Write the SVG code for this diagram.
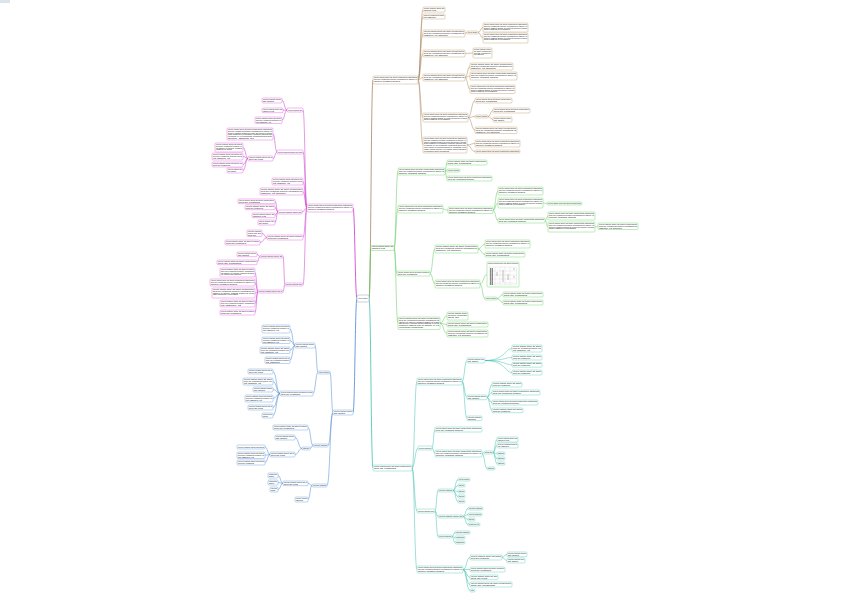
<svg xmlns="http://www.w3.org/2000/svg" width="848" height="599" viewBox="0 0 848 599">
<style>
rect.n{fill:#fff;stroke-width:0.5;rx:1px;ry:1px}
.b{stroke:#c9a57c}.g{stroke:#7ad67a}.t{stroke:#6fd0c0}.m{stroke:#e070e0}.u{stroke:#7aa8e0}
text{font-family:"Liberation Sans",Arial,sans-serif;font-size:1.7px;fill:#222}
path.c{fill:none;stroke-width:0.5}
path.w{stroke-width:0.8}
.cb{stroke:#a8845c}.cg{stroke:#5cc65c}.ct{stroke:#3fbfae}.cm{stroke:#cc33cc}.cu{stroke:#4a84d0}
</style>
<rect x="0" y="0" width="10" height="3" fill="#dde3ea"/>
<g id="connectors">
<path class="c w cb" d="M369,298.5 C371,298.5 371,80 373,80"/>
<path class="c w cg" d="M369,298.5 C370,298.5 370,248 371,248"/>
<path class="c w ct" d="M369,298.5 C371,298.5 371,468 373,468"/>
<path class="c w cm" d="M357,298.5 C355,298.5 355,208 353,208"/>
<path class="c w cu" d="M357,298.5 C355,298.5 355,412.5 353,412.5"/>
<path class="c cb" d="M418,80 C420.5,80 420.5,9.5 423,9.5"/>
<path class="c cb" d="M418,80 C420.5,80 420.5,16.5 423,16.5"/>
<path class="c cb" d="M418,80 C420.5,80 420.5,33.5 423,33.5"/>
<path class="c cb" d="M418,80 C420.5,80 420.5,53.5 423,53.5"/>
<path class="c cb" d="M418,80 C420.5,80 420.5,77.5 423,77.5"/>
<path class="c cb" d="M418,80 C420.5,80 420.5,117.5 423,117.5"/>
<path class="c cb" d="M418,80 C420.5,80 420.5,145 423,145"/>
<path class="c cb" d="M465,33.5 C466,33.5 466,32.5 467,32.5"/>
<path class="c cb" d="M478,32.5 C480.5,32.5 480.5,27.5 483,27.5"/>
<path class="c cb" d="M478,32.5 C480.5,32.5 480.5,38 483,38"/>
<path class="c cb" d="M465,53.5 C469,53.5 469,53 473,53"/>
<path class="c cb" d="M465,77.5 C467.5,77.5 467.5,66.5 470,66.5"/>
<path class="c cb" d="M465,77.5 C467.5,77.5 467.5,76 470,76"/>
<path class="c cb" d="M465,77.5 C467.5,77.5 467.5,89.25 470,89.25"/>
<path class="c cb" d="M468,117.5 C471.5,117.5 471.5,100.5 475,100.5"/>
<path class="c cb" d="M468,117.5 C471.5,117.5 471.5,116.5 475,116.5"/>
<path class="c cb" d="M468,117.5 C471.5,117.5 471.5,130.25 475,130.25"/>
<path class="c cb" d="M488,116.5 C490.5,116.5 490.5,110.5 493,110.5"/>
<path class="c cb" d="M488,116.5 C490.5,116.5 490.5,119.5 493,119.5"/>
<path class="c cb" d="M467,145 C471,145 471,143.5 475,143.5"/>
<path class="c cb" d="M467,145 C471,145 471,151.5 475,151.5"/>
<path class="c cg" d="M394,248 C396,248 396,171.5 398,171.5"/>
<path class="c cg" d="M394,248 C396,248 396,209 398,209"/>
<path class="c cg" d="M394,248 C395.5,248 395.5,273.5 397,273.5"/>
<path class="c cg" d="M394,248 C396,248 396,323.25 398,323.25"/>
<path class="c cg" d="M445,171.5 C446,171.5 446,162.5 447,162.5"/>
<path class="c cg" d="M445,171.5 C446,171.5 446,170.5 447,170.5"/>
<path class="c cg" d="M445,171.5 C446,171.5 446,178.5 447,178.5"/>
<path class="c cg" d="M443,209 C445.5,209 445.5,210.25 448,210.25"/>
<path class="c cg" d="M493,210.25 C495.5,210.25 495.5,191 498,191"/>
<path class="c cg" d="M493,210.25 C495.5,210.25 495.5,203 498,203"/>
<path class="c cg" d="M493,210.25 C495.5,210.25 495.5,220.5 498,220.5"/>
<path class="c cg" d="M543,203 C545,203 545,203.5 547,203.5"/>
<path class="c cg" d="M545,220.5 C546.5,220.5 546.5,216 548,216"/>
<path class="c cg" d="M545,220.5 C546.5,220.5 546.5,227 548,227"/>
<path class="c cg" d="M595,227 C596.5,227 596.5,226.25 598,226.25"/>
<path class="c cg" d="M430,273.5 C432.5,273.5 432.5,249 435,249"/>
<path class="c cg" d="M430,273.5 C432.5,273.5 432.5,284 435,284"/>
<path class="c cg" d="M478,249 C481.5,249 481.5,244 485,244"/>
<path class="c cg" d="M478,249 C481.5,249 481.5,254.5 485,254.5"/>
<path class="c cg" d="M480,284 C483.5,284 483.5,274.5 487,274.5"/>
<path class="c cg" d="M480,284 C482.5,284 482.5,298.5 485,298.5"/>
<path class="c cg" d="M497,298.5 C500,298.5 500,294.5 503,294.5"/>
<path class="c cg" d="M497,298.5 C500,298.5 500,302.5 503,302.5"/>
<path class="c cg" d="M440,323.25 C443.5,323.25 443.5,316 447,316"/>
<path class="c cg" d="M440,323.25 C443.5,323.25 443.5,324.5 447,324.5"/>
<path class="c cg" d="M440,323.25 C443.5,323.25 443.5,333.5 447,333.5"/>
<path class="c ct" d="M412,468 C414.5,468 414.5,381.5 417,381.5"/>
<path class="c ct" d="M412,468 C415,468 415,448 418,448"/>
<path class="c ct" d="M412,468 C414.5,468 414.5,511 417,511"/>
<path class="c ct" d="M412,468 C414.5,468 414.5,569.5 417,569.5"/>
<path class="c ct" d="M462,381.5 C464.5,381.5 464.5,360.5 467,360.5"/>
<path class="c ct" d="M462,381.5 C464.5,381.5 464.5,397.35 467,397.35"/>
<path class="c ct" d="M462,381.5 C464.5,381.5 464.5,418.35 467,418.35"/>
<path class="c ct" d="M485,360.5 C505,360.5 505,348.5 512,348.5"/>
<path class="c ct" d="M485,360.5 C505,360.5 505,357.5 512,357.5"/>
<path class="c ct" d="M485,360.5 C505,360.5 505,364.85 512,364.85"/>
<path class="c ct" d="M485,360.5 C505,360.5 505,372.5 512,372.5"/>
<path class="c ct" d="M487,397.35 C489.5,397.35 489.5,384.5 492,384.5"/>
<path class="c ct" d="M487,397.35 C489.5,397.35 489.5,392.5 492,392.5"/>
<path class="c ct" d="M487,397.35 C489.5,397.35 489.5,402.5 492,402.5"/>
<path class="c ct" d="M487,397.35 C489.5,397.35 489.5,410.35 492,410.35"/>
<path class="c ct" d="M432,448 C433.5,448 433.5,429.5 435,429.5"/>
<path class="c ct" d="M432,448 C433.5,448 433.5,453.5 435,453.5"/>
<path class="c ct" d="M482,453.5 C483,453.5 483,452.5 484,452.5"/>
<path class="c ct" d="M493,452.5 C495,452.5 495,439.5 497,439.5"/>
<path class="c ct" d="M493,452.5 C495,452.5 495,445.5 497,445.5"/>
<path class="c ct" d="M493,452.5 C495,452.5 495,453.5 497,453.5"/>
<path class="c ct" d="M493,452.5 C495,452.5 495,458.5 497,458.5"/>
<path class="c ct" d="M493,452.5 C495,452.5 495,463.5 497,463.5"/>
<path class="c ct" d="M482,453.5 C484.5,453.5 484.5,468.5 487,468.5"/>
<path class="c ct" d="M435,511 C436.5,511 436.5,490.5 438,490.5"/>
<path class="c ct" d="M435,511 C436.5,511 436.5,516.5 438,516.5"/>
<path class="c ct" d="M435,511 C436.5,511 436.5,536.5 438,536.5"/>
<path class="c ct" d="M453,490.5 C455.5,490.5 455.5,479.5 458,479.5"/>
<path class="c ct" d="M453,490.5 C455.5,490.5 455.5,485.5 458,485.5"/>
<path class="c ct" d="M453,490.5 C455.5,490.5 455.5,491.5 458,491.5"/>
<path class="c ct" d="M453,490.5 C455.5,490.5 455.5,496.5 458,496.5"/>
<path class="c ct" d="M453,490.5 C455.5,490.5 455.5,501.5 458,501.5"/>
<path class="c ct" d="M463,516.5 C465.5,516.5 465.5,508.5 468,508.5"/>
<path class="c ct" d="M463,516.5 C465.5,516.5 465.5,514.5 468,514.5"/>
<path class="c ct" d="M463,516.5 C465.5,516.5 465.5,519.5 468,519.5"/>
<path class="c ct" d="M463,516.5 C465.5,516.5 465.5,524.5 468,524.5"/>
<path class="c ct" d="M452,536.5 C453.5,536.5 453.5,532.5 455,532.5"/>
<path class="c ct" d="M452,536.5 C453.5,536.5 453.5,537.5 455,537.5"/>
<path class="c ct" d="M452,536.5 C453.5,536.5 453.5,542.5 455,542.5"/>
<path class="c ct" d="M463,569.5 C466.5,569.5 466.5,557.5 470,557.5"/>
<path class="c ct" d="M463,569.5 C466.5,569.5 466.5,569.5 470,569.5"/>
<path class="c ct" d="M463,569.5 C466.5,569.5 466.5,577.35 470,577.35"/>
<path class="c ct" d="M463,569.5 C466.5,569.5 466.5,584.5 470,584.5"/>
<path class="c ct" d="M463,569.5 C466.5,569.5 466.5,590.5 470,590.5"/>
<path class="c ct" d="M502,557.5 C504.5,557.5 504.5,554.35 507,554.35"/>
<path class="c ct" d="M502,557.5 C504.5,557.5 504.5,560.5 507,560.5"/>
<path class="c cm" d="M307,208 C305,208 305,110 303,110"/>
<path class="c cm" d="M307,208 C305,208 305,152 303,152"/>
<path class="c cm" d="M307,208 C305,208 305,181.5 303,181.5"/>
<path class="c cm" d="M307,208 C305,208 305,191.5 303,191.5"/>
<path class="c cm" d="M307,208 C304.5,208 304.5,212 302,212"/>
<path class="c cm" d="M307,208 C305,208 305,237.5 303,237.5"/>
<path class="c cm" d="M307,208 C305,208 305,284.5 303,284.5"/>
<path class="c cm" d="M287,110 C284.5,110 284.5,100.5 282,100.5"/>
<path class="c cm" d="M287,110 C285,110 285,110.35 283,110.35"/>
<path class="c cm" d="M287,110 C284.5,110 284.5,120.25 282,120.25"/>
<path class="c cm" d="M277,152 C275,152 275,134 273,134"/>
<path class="c cm" d="M277,152 C275,152 275,158.5 273,158.5"/>
<path class="c cm" d="M248,158.5 C245.5,158.5 245.5,147.5 243,147.5"/>
<path class="c cm" d="M248,158.5 C245.5,158.5 245.5,156.5 243,156.5"/>
<path class="c cm" d="M248,158.5 C245.5,158.5 245.5,164.5 243,164.5"/>
<path class="c cm" d="M248,158.5 C245.5,158.5 245.5,170.5 243,170.5"/>
<path class="c cm" d="M278,212 C276.5,212 276.5,201.35 275,201.35"/>
<path class="c cm" d="M278,212 C276.5,212 276.5,207.35 275,207.35"/>
<path class="c cm" d="M278,212 C276.5,212 276.5,215.35 275,215.35"/>
<path class="c cm" d="M278,212 C276.5,212 276.5,222.5 275,222.5"/>
<path class="c cm" d="M267,237.5 C264.5,237.5 264.5,233.25 262,233.25"/>
<path class="c cm" d="M267,237.5 C263.5,237.5 263.5,242.5 260,242.5"/>
<path class="c cm" d="M285,284.5 C284,284.5 284,256.5 283,256.5"/>
<path class="c cm" d="M285,284.5 C284,284.5 284,291.5 283,291.5"/>
<path class="c cm" d="M260,256.5 C258.5,256.5 258.5,254.35 257,254.35"/>
<path class="c cm" d="M260,256.5 C258.5,256.5 258.5,262.35 257,262.35"/>
<path class="c cm" d="M258,291.5 C256.5,291.5 256.5,272.5 255,272.5"/>
<path class="c cm" d="M258,291.5 C256.5,291.5 256.5,282.5 255,282.5"/>
<path class="c cm" d="M258,291.5 C256.5,291.5 256.5,293 255,293"/>
<path class="c cm" d="M258,291.5 C256.5,291.5 256.5,303.5 255,303.5"/>
<path class="c cm" d="M258,291.5 C256.5,291.5 256.5,312.5 255,312.5"/>
<path class="c cu" d="M333,412.5 C331.5,412.5 331.5,372.5 330,372.5"/>
<path class="c cu" d="M333,412.5 C330.5,412.5 330.5,445.5 328,445.5"/>
<path class="c cu" d="M333,412.5 C330,412.5 330,485.5 327,485.5"/>
<path class="c cu" d="M318,372.5 C316.5,372.5 316.5,345.5 315,345.5"/>
<path class="c cu" d="M318,372.5 C315.5,372.5 315.5,393.5 313,393.5"/>
<path class="c cu" d="M295,345.5 C292.5,345.5 292.5,329 290,329"/>
<path class="c cu" d="M295,345.5 C292.5,345.5 292.5,340.25 290,340.25"/>
<path class="c cu" d="M295,345.5 C292.5,345.5 292.5,350.25 290,350.25"/>
<path class="c cu" d="M295,345.5 C292.5,345.5 292.5,360.25 290,360.25"/>
<path class="c cu" d="M280,393.5 C276.5,393.5 276.5,371.5 273,371.5"/>
<path class="c cu" d="M280,393.5 C276.5,393.5 276.5,381.5 273,381.5"/>
<path class="c cu" d="M280,393.5 C276.5,393.5 276.5,389.5 273,389.5"/>
<path class="c cu" d="M280,393.5 C276.5,393.5 276.5,398.5 273,398.5"/>
<path class="c cu" d="M280,393.5 C276.5,393.5 276.5,407.5 273,407.5"/>
<path class="c cu" d="M280,393.5 C276.5,393.5 276.5,415.5 273,415.5"/>
<path class="c cu" d="M313,445.5 C310.5,445.5 310.5,427.5 308,427.5"/>
<path class="c cu" d="M313,445.5 C311.5,445.5 311.5,448.5 310,448.5"/>
<path class="c cu" d="M302,448.5 C298.5,448.5 298.5,437.5 295,437.5"/>
<path class="c cu" d="M302,448.5 C298.5,448.5 298.5,454.5 295,454.5"/>
<path class="c cu" d="M270,454.5 C267.5,454.5 267.5,447 265,447"/>
<path class="c cu" d="M270,454.5 C267.5,454.5 267.5,455.25 265,455.25"/>
<path class="c cu" d="M270,454.5 C267.5,454.5 267.5,462.5 265,462.5"/>
<path class="c cu" d="M312,485.5 C310,485.5 310,483.35 308,483.35"/>
<path class="c cu" d="M312,485.5 C310,485.5 310,499.5 308,499.5"/>
<path class="c cu" d="M283,483.35 C280.5,483.35 280.5,475.5 278,475.5"/>
<path class="c cu" d="M283,483.35 C280.5,483.35 280.5,482.5 278,482.5"/>
<path class="c cu" d="M283,483.35 C280.5,483.35 280.5,489.5 278,489.5"/>
</g>
<g id="root"><rect class="n" x="357" y="295" width="12" height="7" style="stroke:#8aa0b8;stroke-width:0.5"/><text x="358.5" y="299.3" textLength="9" lengthAdjust="spacingAndGlyphs" style="font-size:2px">lorem ipsum</text></g>
<g id="B0"><rect class="n b" x="373" y="76" width="45" height="8"/><text x="374" y="77.8" textLength="43" lengthAdjust="spacingAndGlyphs">lorem ipsum dolor sit amet consectetur adipiscing</text><text x="374" y="79.65" textLength="43" lengthAdjust="spacingAndGlyphs">sed do eiusmod tempor incididunt ut labore et</text><text x="374" y="81.5" textLength="26" lengthAdjust="spacingAndGlyphs">dolore magna aliqua</text></g>
<g id="B1"><rect class="n b" x="423" y="7" width="22" height="5"/><text x="424" y="8.8" textLength="20" lengthAdjust="spacingAndGlyphs">lorem ipsum dolor sit</text><text x="424" y="10.65" textLength="12" lengthAdjust="spacingAndGlyphs">amet elit</text></g>
<g id="B2"><rect class="n b" x="423" y="14" width="22" height="5"/><text x="424" y="15.8" textLength="20" lengthAdjust="spacingAndGlyphs">sed do eiusmod tempor</text><text x="424" y="17.65" textLength="12" lengthAdjust="spacingAndGlyphs">ut labore</text></g>
<g id="B3"><rect class="n b" x="423" y="30" width="42" height="7"/><text x="424" y="31.8" textLength="40" lengthAdjust="spacingAndGlyphs">lorem ipsum dolor sit amet consectetur</text><text x="424" y="33.65" textLength="40" lengthAdjust="spacingAndGlyphs">sed do eiusmod tempor incididunt ut</text><text x="424" y="35.5" textLength="24" lengthAdjust="spacingAndGlyphs">labore et dolore</text></g>
<g id="B3a"><rect class="n b" x="467" y="31" width="11" height="3"/><text x="468" y="33.1" textLength="9" lengthAdjust="spacingAndGlyphs">lorem ipsum</text></g>
<g id="B3a1"><rect class="n b" x="483" y="23" width="45" height="9"/><text x="484" y="24.8" textLength="43" lengthAdjust="spacingAndGlyphs">lorem ipsum dolor sit amet consectetur adipiscing</text><text x="484" y="26.65" textLength="43" lengthAdjust="spacingAndGlyphs">sed do eiusmod tempor incididunt ut labore et</text><text x="484" y="28.5" textLength="43" lengthAdjust="spacingAndGlyphs">dolore magna aliqua ut enim ad minim veniam</text><text x="484" y="30.35" textLength="26" lengthAdjust="spacingAndGlyphs">quis nostrud exercitation</text></g>
<g id="B3a2"><rect class="n b" x="483" y="33" width="45" height="10"/><text x="484" y="34.8" textLength="43" lengthAdjust="spacingAndGlyphs">lorem ipsum dolor sit amet consectetur adipiscing</text><text x="484" y="36.65" textLength="43" lengthAdjust="spacingAndGlyphs">sed do eiusmod tempor incididunt ut labore et</text><text x="484" y="38.5" textLength="43" lengthAdjust="spacingAndGlyphs">dolore magna aliqua ut enim ad minim veniam</text><text x="484" y="40.35" textLength="26" lengthAdjust="spacingAndGlyphs">quis nostrud exercitation</text></g>
<g id="B4"><rect class="n b" x="423" y="50" width="42" height="7"/><text x="424" y="51.8" textLength="40" lengthAdjust="spacingAndGlyphs">lorem ipsum dolor sit amet consectetur</text><text x="424" y="53.65" textLength="40" lengthAdjust="spacingAndGlyphs">sed do eiusmod tempor incididunt ut</text><text x="424" y="55.5" textLength="24" lengthAdjust="spacingAndGlyphs">labore et dolore</text></g>
<g id="B4a"><rect class="n b" x="473" y="48" width="19" height="10"/><text x="474" y="49.8" textLength="17" lengthAdjust="spacingAndGlyphs">lorem ipsum dolor</text><text x="474" y="51.65" textLength="17" lengthAdjust="spacingAndGlyphs">sit amet consectet</text><text x="474" y="53.5" textLength="17" lengthAdjust="spacingAndGlyphs">sed do eiusmod te</text><text x="474" y="55.35" textLength="10" lengthAdjust="spacingAndGlyphs">ut labore</text></g>
<g id="B5"><rect class="n b" x="423" y="74" width="42" height="7"/><text x="424" y="75.8" textLength="40" lengthAdjust="spacingAndGlyphs">lorem ipsum dolor sit amet consectetur</text><text x="424" y="77.65" textLength="40" lengthAdjust="spacingAndGlyphs">sed do eiusmod tempor incididunt ut</text><text x="424" y="79.5" textLength="24" lengthAdjust="spacingAndGlyphs">labore et dolore</text></g>
<g id="B5a"><rect class="n b" x="470" y="63" width="43" height="7"/><text x="471" y="64.8" textLength="41" lengthAdjust="spacingAndGlyphs">lorem ipsum dolor sit amet consectetur</text><text x="471" y="66.65" textLength="41" lengthAdjust="spacingAndGlyphs">sed do eiusmod tempor incididunt ut</text><text x="471" y="68.5" textLength="25" lengthAdjust="spacingAndGlyphs">labore et dolore</text></g>
<g id="B5b"><rect class="n b" x="470" y="72" width="47" height="8"/><text x="471" y="73.8" textLength="45" lengthAdjust="spacingAndGlyphs">lorem ipsum dolor sit amet consectetur adipiscing</text><text x="471" y="75.65" textLength="45" lengthAdjust="spacingAndGlyphs">sed do eiusmod tempor incididunt ut labore et</text><text x="471" y="77.5" textLength="27" lengthAdjust="spacingAndGlyphs">dolore magna aliqua</text></g>
<g id="B5c"><rect class="n b" x="470" y="85" width="45" height="8.5"/><text x="471" y="86.8" textLength="43" lengthAdjust="spacingAndGlyphs">lorem ipsum dolor sit amet consectetur adipiscing</text><text x="471" y="88.65" textLength="43" lengthAdjust="spacingAndGlyphs">sed do eiusmod tempor incididunt ut labore et</text><text x="471" y="90.5" textLength="43" lengthAdjust="spacingAndGlyphs">dolore magna aliqua ut enim ad minim veniam</text><text x="471" y="92.35" textLength="26" lengthAdjust="spacingAndGlyphs">quis nostrud exercitation</text></g>
<g id="B6"><rect class="n b" x="423" y="113" width="45" height="9"/><text x="424" y="114.8" textLength="43" lengthAdjust="spacingAndGlyphs">lorem ipsum dolor sit amet consectetur adipiscing</text><text x="424" y="116.65" textLength="43" lengthAdjust="spacingAndGlyphs">sed do eiusmod tempor incididunt ut labore et</text><text x="424" y="118.5" textLength="43" lengthAdjust="spacingAndGlyphs">dolore magna aliqua ut enim ad minim veniam</text><text x="424" y="120.35" textLength="26" lengthAdjust="spacingAndGlyphs">quis nostrud exercitation</text></g>
<g id="B6a"><rect class="n b" x="475" y="98" width="37" height="5"/><text x="476" y="99.8" textLength="35" lengthAdjust="spacingAndGlyphs">lorem ipsum dolor sit amet consectetur</text><text x="476" y="101.65" textLength="21" lengthAdjust="spacingAndGlyphs">sed do eiusmod</text></g>
<g id="B6b"><rect class="n b" x="475" y="115" width="13" height="3"/><text x="476" y="117.1" textLength="11" lengthAdjust="spacingAndGlyphs">lorem ipsum</text></g>
<g id="B6b1"><rect class="n b" x="493" y="108" width="37" height="5"/><text x="494" y="109.8" textLength="35" lengthAdjust="spacingAndGlyphs">lorem ipsum dolor sit amet consectetur</text><text x="494" y="111.65" textLength="21" lengthAdjust="spacingAndGlyphs">sed do eiusmod</text></g>
<g id="B6b2"><rect class="n b" x="493" y="117" width="19" height="5"/><text x="494" y="118.8" textLength="17" lengthAdjust="spacingAndGlyphs">lorem ipsum dolor</text><text x="494" y="120.65" textLength="10" lengthAdjust="spacingAndGlyphs">sit amet</text></g>
<g id="B6c"><rect class="n b" x="475" y="127" width="42" height="6.5"/><text x="476" y="128.8" textLength="40" lengthAdjust="spacingAndGlyphs">lorem ipsum dolor sit amet consectetur</text><text x="476" y="130.65" textLength="40" lengthAdjust="spacingAndGlyphs">sed do eiusmod tempor incididunt ut</text><text x="476" y="132.5" textLength="24" lengthAdjust="spacingAndGlyphs">labore et dolore</text></g>
<g id="B7"><rect class="n b" x="423" y="137" width="44" height="16"/><text x="424" y="138.8" textLength="42" lengthAdjust="spacingAndGlyphs">lorem ipsum dolor sit amet consectetur adipiscing</text><text x="424" y="140.65" textLength="42" lengthAdjust="spacingAndGlyphs">sed do eiusmod tempor incididunt ut labore et</text><text x="424" y="142.5" textLength="42" lengthAdjust="spacingAndGlyphs">dolore magna aliqua ut enim ad minim veniam</text><text x="424" y="144.35" textLength="42" lengthAdjust="spacingAndGlyphs">quis nostrud exercitation ullamco laboris nisi</text><text x="424" y="146.2" textLength="42" lengthAdjust="spacingAndGlyphs">ut aliquip ex ea commodo consequat duis aute</text><text x="424" y="148.05" textLength="42" lengthAdjust="spacingAndGlyphs">irure dolor in reprehenderit in voluptate velit</text><text x="424" y="149.9" textLength="42" lengthAdjust="spacingAndGlyphs">esse cillum dolore eu fugiat nulla pariatur</text><text x="424" y="151.75" textLength="25" lengthAdjust="spacingAndGlyphs">excepteur sint occaecat</text></g>
<g id="B7a"><rect class="n b" x="475" y="140" width="45" height="7"/><text x="476" y="141.8" textLength="43" lengthAdjust="spacingAndGlyphs">lorem ipsum dolor sit amet consectetur adipiscing</text><text x="476" y="143.65" textLength="43" lengthAdjust="spacingAndGlyphs">sed do eiusmod tempor incididunt ut labore et</text><text x="476" y="145.5" textLength="26" lengthAdjust="spacingAndGlyphs">dolore magna aliqua</text></g>
<g id="B7b"><rect class="n b" x="475" y="150" width="45" height="3"/><text x="476" y="152.1" textLength="43" lengthAdjust="spacingAndGlyphs">lorem ipsum dolor sit amet consectetur adipiscing</text></g>
<g id="G0"><rect class="n g" x="371" y="245.5" width="23" height="5"/><text x="372" y="247.3" textLength="21" lengthAdjust="spacingAndGlyphs">lorem ipsum dolor sit</text><text x="372" y="249.15" textLength="13" lengthAdjust="spacingAndGlyphs">amet elit</text></g>
<g id="G1"><rect class="n g" x="398" y="168" width="47" height="7"/><text x="399" y="169.8" textLength="45" lengthAdjust="spacingAndGlyphs">lorem ipsum dolor sit amet consectetur adipiscing</text><text x="399" y="171.65" textLength="45" lengthAdjust="spacingAndGlyphs">sed do eiusmod tempor incididunt ut labore et</text><text x="399" y="173.5" textLength="27" lengthAdjust="spacingAndGlyphs">dolore magna aliqua</text></g>
<g id="G1a"><rect class="n g" x="447" y="160" width="40" height="5"/><text x="448" y="161.8" textLength="38" lengthAdjust="spacingAndGlyphs">lorem ipsum dolor sit amet consectetur</text><text x="448" y="163.65" textLength="23" lengthAdjust="spacingAndGlyphs">sed do eiusmod</text></g>
<g id="G1b"><rect class="n g" x="447" y="169" width="13" height="3"/><text x="448" y="171.1" textLength="11" lengthAdjust="spacingAndGlyphs">lorem ipsum</text></g>
<g id="G1c"><rect class="n g" x="447" y="176" width="45" height="5"/><text x="448" y="177.8" textLength="43" lengthAdjust="spacingAndGlyphs">lorem ipsum dolor sit amet consectetur adipiscing</text><text x="448" y="179.65" textLength="26" lengthAdjust="spacingAndGlyphs">sed do eiusmod tempor</text></g>
<g id="G2"><rect class="n g" x="398" y="205" width="45" height="8"/><text x="399" y="206.8" textLength="43" lengthAdjust="spacingAndGlyphs">lorem ipsum dolor sit amet consectetur adipiscing</text><text x="399" y="208.65" textLength="43" lengthAdjust="spacingAndGlyphs">sed do eiusmod tempor incididunt ut labore et</text><text x="399" y="210.5" textLength="26" lengthAdjust="spacingAndGlyphs">dolore magna aliqua</text></g>
<g id="G2a"><rect class="n g" x="448" y="207" width="45" height="6.5"/><text x="449" y="208.8" textLength="43" lengthAdjust="spacingAndGlyphs">lorem ipsum dolor sit amet consectetur adipiscing</text><text x="449" y="210.65" textLength="43" lengthAdjust="spacingAndGlyphs">sed do eiusmod tempor incididunt ut labore et</text><text x="449" y="212.5" textLength="26" lengthAdjust="spacingAndGlyphs">dolore magna aliqua</text></g>
<g id="G2a1"><rect class="n g" x="498" y="187" width="45" height="8"/><text x="499" y="188.8" textLength="43" lengthAdjust="spacingAndGlyphs">lorem ipsum dolor sit amet consectetur adipiscing</text><text x="499" y="190.65" textLength="43" lengthAdjust="spacingAndGlyphs">sed do eiusmod tempor incididunt ut labore et</text><text x="499" y="192.5" textLength="26" lengthAdjust="spacingAndGlyphs">dolore magna aliqua</text></g>
<g id="G2a2"><rect class="n g" x="498" y="198" width="45" height="10"/><text x="499" y="199.8" textLength="43" lengthAdjust="spacingAndGlyphs">lorem ipsum dolor sit amet consectetur adipiscing</text><text x="499" y="201.65" textLength="43" lengthAdjust="spacingAndGlyphs">sed do eiusmod tempor incididunt ut labore et</text><text x="499" y="203.5" textLength="43" lengthAdjust="spacingAndGlyphs">dolore magna aliqua ut enim ad minim veniam</text><text x="499" y="205.35" textLength="26" lengthAdjust="spacingAndGlyphs">quis nostrud exercitation</text></g>
<g id="G2a2x"><rect class="n g" x="547" y="202" width="35" height="3"/><text x="548" y="204.1" textLength="33" lengthAdjust="spacingAndGlyphs">lorem ipsum dolor sit amet consectetur</text></g>
<g id="G2a3"><rect class="n g" x="498" y="218" width="47" height="5"/><text x="499" y="219.8" textLength="45" lengthAdjust="spacingAndGlyphs">lorem ipsum dolor sit amet consectetur adipiscing</text><text x="499" y="221.65" textLength="27" lengthAdjust="spacingAndGlyphs">sed do eiusmod tempor</text></g>
<g id="G2a3a"><rect class="n g" x="548" y="212" width="47" height="8"/><text x="549" y="213.8" textLength="45" lengthAdjust="spacingAndGlyphs">lorem ipsum dolor sit amet consectetur adipiscing</text><text x="549" y="215.65" textLength="45" lengthAdjust="spacingAndGlyphs">sed do eiusmod tempor incididunt ut labore et</text><text x="549" y="217.5" textLength="27" lengthAdjust="spacingAndGlyphs">dolore magna aliqua</text></g>
<g id="G2a3b"><rect class="n g" x="548" y="222" width="47" height="10"/><text x="549" y="223.8" textLength="45" lengthAdjust="spacingAndGlyphs">lorem ipsum dolor sit amet consectetur adipiscing</text><text x="549" y="225.65" textLength="45" lengthAdjust="spacingAndGlyphs">sed do eiusmod tempor incididunt ut labore et</text><text x="549" y="227.5" textLength="45" lengthAdjust="spacingAndGlyphs">dolore magna aliqua ut enim ad minim veniam</text><text x="549" y="229.35" textLength="27" lengthAdjust="spacingAndGlyphs">quis nostrud exercitation</text></g>
<g id="G2a3b1"><rect class="n g" x="598" y="223" width="40" height="6.5"/><text x="599" y="224.8" textLength="38" lengthAdjust="spacingAndGlyphs">lorem ipsum dolor sit amet consectetur</text><text x="599" y="226.65" textLength="38" lengthAdjust="spacingAndGlyphs">sed do eiusmod tempor incididunt ut</text><text x="599" y="228.5" textLength="23" lengthAdjust="spacingAndGlyphs">labore et dolore</text></g>
<g id="G3"><rect class="n g" x="397" y="271" width="33" height="5"/><text x="398" y="272.8" textLength="31" lengthAdjust="spacingAndGlyphs">lorem ipsum dolor sit amet consect</text><text x="398" y="274.65" textLength="19" lengthAdjust="spacingAndGlyphs">sed do eiusmod</text></g>
<g id="G3a"><rect class="n g" x="435" y="245" width="43" height="8"/><text x="436" y="246.8" textLength="41" lengthAdjust="spacingAndGlyphs">lorem ipsum dolor sit amet consectetur</text><text x="436" y="248.65" textLength="41" lengthAdjust="spacingAndGlyphs">sed do eiusmod tempor incididunt ut</text><text x="436" y="250.5" textLength="25" lengthAdjust="spacingAndGlyphs">labore et dolore</text></g>
<g id="G3a1"><rect class="n g" x="485" y="240" width="45" height="8"/><text x="486" y="241.8" textLength="43" lengthAdjust="spacingAndGlyphs">lorem ipsum dolor sit amet consectetur adipiscing</text><text x="486" y="243.65" textLength="43" lengthAdjust="spacingAndGlyphs">sed do eiusmod tempor incididunt ut labore et</text><text x="486" y="245.5" textLength="26" lengthAdjust="spacingAndGlyphs">dolore magna aliqua</text></g>
<g id="G3a2"><rect class="n g" x="485" y="252" width="40" height="5"/><text x="486" y="253.8" textLength="38" lengthAdjust="spacingAndGlyphs">lorem ipsum dolor sit amet consectetur</text><text x="486" y="255.65" textLength="23" lengthAdjust="spacingAndGlyphs">sed do eiusmod</text></g>
<g id="G3b"><rect class="n g" x="435" y="280" width="45" height="8"/><text x="436" y="281.8" textLength="43" lengthAdjust="spacingAndGlyphs">lorem ipsum dolor sit amet consectetur adipiscing</text><text x="436" y="283.65" textLength="43" lengthAdjust="spacingAndGlyphs">sed do eiusmod tempor incididunt ut labore et</text><text x="436" y="285.5" textLength="26" lengthAdjust="spacingAndGlyphs">dolore magna aliqua</text></g>
<g id="G3b1"><rect class="n g" x="487" y="262" width="32" height="25"/><text x="488" y="264.3" textLength="30" lengthAdjust="spacingAndGlyphs">lorem ipsum dolor sit amet consect</text>
<g fill="none" stroke="#bbb" stroke-width="0.25"><rect x="489.5" y="267" width="27" height="18"/><path d="M495,267V285M500,267V285M505,267V285M510,267V285M489.5,271H516.5M489.5,275H516.5M489.5,279H516.5M489.5,283H516.5"/></g>
<g stroke="#333" stroke-width="0.7"><path d="M490.7,268V285M492.3,268V285"/></g>
<g stroke="#555" stroke-width="0.4"><path d="M497,272V276M503,270V282M508,274V280M513,269H515M513,277H515"/></g></g>
<g id="G3b2"><rect class="n g" x="485" y="297" width="12" height="3"/><text x="486" y="299.1" textLength="10" lengthAdjust="spacingAndGlyphs">lorem ipsum</text></g>
<g id="G3b2a"><rect class="n g" x="503" y="292" width="40" height="5"/><text x="504" y="293.8" textLength="38" lengthAdjust="spacingAndGlyphs">lorem ipsum dolor sit amet consectetur</text><text x="504" y="295.65" textLength="23" lengthAdjust="spacingAndGlyphs">sed do eiusmod</text></g>
<g id="G3b2b"><rect class="n g" x="503" y="300" width="40" height="5"/><text x="504" y="301.8" textLength="38" lengthAdjust="spacingAndGlyphs">lorem ipsum dolor sit amet consectetur</text><text x="504" y="303.65" textLength="23" lengthAdjust="spacingAndGlyphs">sed do eiusmod</text></g>
<g id="G4"><rect class="n g" x="398" y="317" width="42" height="12.5"/><text x="399" y="318.8" textLength="40" lengthAdjust="spacingAndGlyphs">lorem ipsum dolor sit amet consectetur</text><text x="399" y="320.65" textLength="40" lengthAdjust="spacingAndGlyphs">sed do eiusmod tempor incididunt ut</text><text x="399" y="322.5" textLength="40" lengthAdjust="spacingAndGlyphs">labore et dolore magna aliqua ut enim</text><text x="399" y="324.35" textLength="40" lengthAdjust="spacingAndGlyphs">ad minim veniam quis nostrud exercit</text><text x="399" y="326.2" textLength="40" lengthAdjust="spacingAndGlyphs">ullamco laboris nisi ut aliquip ex ea</text><text x="399" y="328.05" textLength="24" lengthAdjust="spacingAndGlyphs">commodo consequat</text></g>
<g id="G4a"><rect class="n g" x="447" y="312" width="21" height="8"/><text x="448" y="313.8" textLength="19" lengthAdjust="spacingAndGlyphs">lorem ipsum dolor</text><text x="448" y="315.65" textLength="19" lengthAdjust="spacingAndGlyphs">sit amet consectet</text><text x="448" y="317.5" textLength="11" lengthAdjust="spacingAndGlyphs">sed do</text></g>
<g id="G4b"><rect class="n g" x="447" y="322" width="41" height="5"/><text x="448" y="323.8" textLength="39" lengthAdjust="spacingAndGlyphs">lorem ipsum dolor sit amet consectetur</text><text x="448" y="325.65" textLength="23" lengthAdjust="spacingAndGlyphs">sed do eiusmod</text></g>
<g id="G4c"><rect class="n g" x="447" y="330" width="41" height="7"/><text x="448" y="331.8" textLength="39" lengthAdjust="spacingAndGlyphs">lorem ipsum dolor sit amet consectetur</text><text x="448" y="333.65" textLength="39" lengthAdjust="spacingAndGlyphs">sed do eiusmod tempor incididunt ut</text><text x="448" y="335.5" textLength="23" lengthAdjust="spacingAndGlyphs">labore et dolore</text></g>
<g id="T0"><rect class="n t" x="373" y="465" width="39" height="6"/><text x="374" y="466.8" textLength="37" lengthAdjust="spacingAndGlyphs">lorem ipsum dolor sit amet consectetur</text><text x="374" y="468.65" textLength="22" lengthAdjust="spacingAndGlyphs">sed do eiusmod</text></g>
<g id="T1"><rect class="n t" x="417" y="378" width="45" height="7"/><text x="418" y="379.8" textLength="43" lengthAdjust="spacingAndGlyphs">lorem ipsum dolor sit amet consectetur adipiscing</text><text x="418" y="381.65" textLength="43" lengthAdjust="spacingAndGlyphs">sed do eiusmod tempor incididunt ut labore et</text><text x="418" y="383.5" textLength="26" lengthAdjust="spacingAndGlyphs">dolore magna aliqua</text></g>
<g id="T1a"><rect class="n t" x="467" y="358" width="18" height="5"/><text x="468" y="359.8" textLength="16" lengthAdjust="spacingAndGlyphs">lorem ipsum dol</text><text x="468" y="361.65" textLength="10" lengthAdjust="spacingAndGlyphs">sit amet</text></g>
<g id="T1a1"><rect class="n t" x="512" y="345" width="30" height="7"/><text x="513" y="346.8" textLength="28" lengthAdjust="spacingAndGlyphs">lorem ipsum dolor sit amet</text><text x="513" y="348.65" textLength="28" lengthAdjust="spacingAndGlyphs">sed do eiusmod tempor inc</text><text x="513" y="350.5" textLength="17" lengthAdjust="spacingAndGlyphs">ut labore et</text></g>
<g id="T1a2"><rect class="n t" x="512" y="355" width="30" height="5"/><text x="513" y="356.8" textLength="28" lengthAdjust="spacingAndGlyphs">lorem ipsum dolor sit amet</text><text x="513" y="358.65" textLength="17" lengthAdjust="spacingAndGlyphs">sed do eiusmod</text></g>
<g id="T1a3"><rect class="n t" x="512" y="362.5" width="30" height="4.7"/><text x="513" y="364.3" textLength="28" lengthAdjust="spacingAndGlyphs">lorem ipsum dolor sit amet</text><text x="513" y="366.15" textLength="17" lengthAdjust="spacingAndGlyphs">sed do eiusmod</text></g>
<g id="T1a4"><rect class="n t" x="512" y="370" width="30" height="5"/><text x="513" y="371.8" textLength="28" lengthAdjust="spacingAndGlyphs">lorem ipsum dolor sit amet</text><text x="513" y="373.65" textLength="17" lengthAdjust="spacingAndGlyphs">sed do eiusmod</text></g>
<g id="T1b"><rect class="n t" x="467" y="395" width="20" height="4.7"/><text x="468" y="396.8" textLength="18" lengthAdjust="spacingAndGlyphs">lorem ipsum dolor</text><text x="468" y="398.65" textLength="11" lengthAdjust="spacingAndGlyphs">sit amet</text></g>
<g id="T1b1"><rect class="n t" x="492" y="382" width="30" height="5"/><text x="493" y="383.8" textLength="28" lengthAdjust="spacingAndGlyphs">lorem ipsum dolor sit amet</text><text x="493" y="385.65" textLength="17" lengthAdjust="spacingAndGlyphs">sed do eiusmod</text></g>
<g id="T1b2"><rect class="n t" x="492" y="390" width="48" height="5"/><text x="493" y="391.8" textLength="46" lengthAdjust="spacingAndGlyphs">lorem ipsum dolor sit amet consectetur adipiscing</text><text x="493" y="393.65" textLength="28" lengthAdjust="spacingAndGlyphs">sed do eiusmod tempor</text></g>
<g id="T1b3"><rect class="n t" x="492" y="400" width="46" height="5"/><text x="493" y="401.8" textLength="44" lengthAdjust="spacingAndGlyphs">lorem ipsum dolor sit amet consectetur adipiscing</text><text x="493" y="403.65" textLength="26" lengthAdjust="spacingAndGlyphs">sed do eiusmod tempor</text></g>
<g id="T1b4"><rect class="n t" x="492" y="408" width="31" height="4.7"/><text x="493" y="409.8" textLength="29" lengthAdjust="spacingAndGlyphs">lorem ipsum dolor sit amet</text><text x="493" y="411.65" textLength="17" lengthAdjust="spacingAndGlyphs">sed do eiusmod</text></g>
<g id="T1c"><rect class="n t" x="467" y="416" width="15" height="4.7"/><text x="468" y="417.8" textLength="13" lengthAdjust="spacingAndGlyphs">lorem ipsum</text><text x="468" y="419.65" textLength="8" lengthAdjust="spacingAndGlyphs">dolor</text></g>
<g id="T2"><rect class="n t" x="418" y="446" width="14" height="4"/><text x="419" y="448.6" textLength="12" lengthAdjust="spacingAndGlyphs">lorem ipsum</text></g>
<g id="T2a"><rect class="n t" x="435" y="427" width="47" height="5"/><text x="436" y="428.8" textLength="45" lengthAdjust="spacingAndGlyphs">lorem ipsum dolor sit amet consectetur adipiscing</text><text x="436" y="430.65" textLength="27" lengthAdjust="spacingAndGlyphs">sed do eiusmod tempor</text></g>
<g id="T2b"><rect class="n t" x="435" y="450" width="47" height="7"/><text x="436" y="451.8" textLength="45" lengthAdjust="spacingAndGlyphs">lorem ipsum dolor sit amet consectetur adipiscing</text><text x="436" y="453.65" textLength="45" lengthAdjust="spacingAndGlyphs">sed do eiusmod tempor incididunt ut labore et</text><text x="436" y="455.5" textLength="27" lengthAdjust="spacingAndGlyphs">dolore magna aliqua</text></g>
<g id="T2bs"><rect class="n t" x="484" y="451" width="9" height="3"/><text x="485" y="453.1" textLength="7" lengthAdjust="spacingAndGlyphs">lorem</text></g>
<g id="T2b1"><rect class="n t" x="497" y="437" width="21" height="5"/><text x="498" y="438.8" textLength="19" lengthAdjust="spacingAndGlyphs">lorem ipsum dolor sit</text><text x="498" y="440.65" textLength="11" lengthAdjust="spacingAndGlyphs">amet elit</text></g>
<g id="T2b2"><rect class="n t" x="497" y="443" width="21" height="5"/><text x="498" y="444.8" textLength="19" lengthAdjust="spacingAndGlyphs">sed do eiusmod tempor</text><text x="498" y="446.65" textLength="11" lengthAdjust="spacingAndGlyphs">ut labore</text></g>
<g id="T2b3"><rect class="n t" x="497" y="452" width="8" height="3"/><text x="498" y="454.1" textLength="6" lengthAdjust="spacingAndGlyphs">item</text></g>
<g id="T2b4"><rect class="n t" x="497" y="457" width="8" height="3"/><text x="498" y="459.1" textLength="6" lengthAdjust="spacingAndGlyphs">item</text></g>
<g id="T2b5"><rect class="n t" x="497" y="462" width="8" height="3"/><text x="498" y="464.1" textLength="6" lengthAdjust="spacingAndGlyphs">item</text></g>
<g id="T2c"><rect class="n t" x="487" y="467" width="8" height="3"/><text x="488" y="469.1" textLength="6" lengthAdjust="spacingAndGlyphs">item</text></g>
<g id="T3"><rect class="n t" x="417" y="509" width="18" height="4"/><text x="418" y="511.6" textLength="16" lengthAdjust="spacingAndGlyphs">lorem ipsum dol</text></g>
<g id="T3a"><rect class="n t" x="438" y="489" width="15" height="3"/><text x="439" y="491.1" textLength="13" lengthAdjust="spacingAndGlyphs">lorem ipsum</text></g>
<g id="T3a1"><rect class="n t" x="458" y="478" width="12" height="3"/><text x="459" y="480.1" textLength="10" lengthAdjust="spacingAndGlyphs">lorem ipsum</text></g>
<g id="T3a2"><rect class="n t" x="458" y="484" width="7" height="3"/><text x="459" y="486.1" textLength="5" lengthAdjust="spacingAndGlyphs">item</text></g>
<g id="T3a3"><rect class="n t" x="458" y="490" width="7" height="3"/><text x="459" y="492.1" textLength="5" lengthAdjust="spacingAndGlyphs">item</text></g>
<g id="T3a4"><rect class="n t" x="458" y="495" width="7" height="3"/><text x="459" y="497.1" textLength="5" lengthAdjust="spacingAndGlyphs">item</text></g>
<g id="T3a5"><rect class="n t" x="458" y="500" width="7" height="3"/><text x="459" y="502.1" textLength="5" lengthAdjust="spacingAndGlyphs">item</text></g>
<g id="T3b"><rect class="n t" x="438" y="515" width="25" height="3"/><text x="439" y="517.1" textLength="23" lengthAdjust="spacingAndGlyphs">lorem ipsum dolor sit</text></g>
<g id="T3b1"><rect class="n t" x="468" y="507" width="15" height="3"/><text x="469" y="509.1" textLength="13" lengthAdjust="spacingAndGlyphs">lorem ipsum</text></g>
<g id="T3b2"><rect class="n t" x="468" y="513" width="14" height="3"/><text x="469" y="515.1" textLength="12" lengthAdjust="spacingAndGlyphs">lorem ipsum</text></g>
<g id="T3b3"><rect class="n t" x="468" y="518" width="7" height="3"/><text x="469" y="520.1" textLength="5" lengthAdjust="spacingAndGlyphs">item</text></g>
<g id="T3b4"><rect class="n t" x="468" y="523" width="12" height="3"/><text x="469" y="525.1" textLength="10" lengthAdjust="spacingAndGlyphs">lorem ip</text></g>
<g id="T3c"><rect class="n t" x="438" y="535" width="14" height="3"/><text x="439" y="537.1" textLength="12" lengthAdjust="spacingAndGlyphs">lorem ipsum</text></g>
<g id="T3c1"><rect class="n t" x="455" y="531" width="15" height="3"/><text x="456" y="533.1" textLength="13" lengthAdjust="spacingAndGlyphs">lorem ipsum</text></g>
<g id="T3c2"><rect class="n t" x="455" y="536" width="10" height="3"/><text x="456" y="538.1" textLength="8" lengthAdjust="spacingAndGlyphs">lorem</text></g>
<g id="T3c3"><rect class="n t" x="455" y="541" width="10" height="3"/><text x="456" y="543.1" textLength="8" lengthAdjust="spacingAndGlyphs">ipsum</text></g>
<g id="T4"><rect class="n t" x="417" y="566" width="46" height="7"/><text x="418" y="567.8" textLength="44" lengthAdjust="spacingAndGlyphs">lorem ipsum dolor sit amet consectetur adipiscing</text><text x="418" y="569.65" textLength="44" lengthAdjust="spacingAndGlyphs">sed do eiusmod tempor incididunt ut labore et</text><text x="418" y="571.5" textLength="26" lengthAdjust="spacingAndGlyphs">dolore magna aliqua</text></g>
<g id="T4a"><rect class="n t" x="470" y="555" width="32" height="5"/><text x="471" y="556.8" textLength="30" lengthAdjust="spacingAndGlyphs">lorem ipsum dolor sit amet</text><text x="471" y="558.65" textLength="18" lengthAdjust="spacingAndGlyphs">sed do eiusmod</text></g>
<g id="T4a1"><rect class="n t" x="507" y="552" width="20" height="4.7"/><text x="508" y="553.8" textLength="18" lengthAdjust="spacingAndGlyphs">lorem ipsum dolor</text><text x="508" y="555.65" textLength="11" lengthAdjust="spacingAndGlyphs">sit amet</text></g>
<g id="T4a2"><rect class="n t" x="507" y="558" width="18" height="5"/><text x="508" y="559.8" textLength="16" lengthAdjust="spacingAndGlyphs">lorem ipsum dol</text><text x="508" y="561.65" textLength="10" lengthAdjust="spacingAndGlyphs">sit amet</text></g>
<g id="T4b"><rect class="n t" x="470" y="567" width="35" height="5"/><text x="471" y="568.8" textLength="33" lengthAdjust="spacingAndGlyphs">lorem ipsum dolor sit amet consect</text><text x="471" y="570.65" textLength="20" lengthAdjust="spacingAndGlyphs">sed do eiusmod</text></g>
<g id="T4c"><rect class="n t" x="470" y="575" width="28" height="4.7"/><text x="471" y="576.8" textLength="26" lengthAdjust="spacingAndGlyphs">lorem ipsum dolor sit am</text><text x="471" y="578.65" textLength="16" lengthAdjust="spacingAndGlyphs">sed do eius</text></g>
<g id="T4d"><rect class="n t" x="470" y="582" width="42" height="5"/><text x="471" y="583.8" textLength="40" lengthAdjust="spacingAndGlyphs">lorem ipsum dolor sit amet consectetur</text><text x="471" y="585.65" textLength="24" lengthAdjust="spacingAndGlyphs">sed do eiusmod</text></g>
<g id="T4e"><rect class="n t" x="470" y="589" width="5" height="3"/><text x="471" y="591.1" textLength="3" lengthAdjust="spacingAndGlyphs">ite</text></g>
<g id="M0"><rect class="n m" x="307" y="204" width="46" height="8"/><text x="308" y="205.8" textLength="44" lengthAdjust="spacingAndGlyphs">lorem ipsum dolor sit amet consectetur adipiscing</text><text x="308" y="207.65" textLength="44" lengthAdjust="spacingAndGlyphs">sed do eiusmod tempor incididunt ut labore et</text><text x="308" y="209.5" textLength="26" lengthAdjust="spacingAndGlyphs">dolore magna aliqua</text></g>
<g id="M1"><rect class="n m" x="287" y="108" width="16" height="4"/><text x="288" y="110.6" textLength="14" lengthAdjust="spacingAndGlyphs">lorem ipsum do</text></g>
<g id="M1a"><rect class="n m" x="262" y="98" width="20" height="5"/><text x="263" y="99.8" textLength="18" lengthAdjust="spacingAndGlyphs">lorem ipsum dolor</text><text x="263" y="101.65" textLength="11" lengthAdjust="spacingAndGlyphs">sit amet</text></g>
<g id="M1b"><rect class="n m" x="262" y="108" width="21" height="4.7"/><text x="263" y="109.8" textLength="19" lengthAdjust="spacingAndGlyphs">lorem ipsum dolor sit</text><text x="263" y="111.65" textLength="11" lengthAdjust="spacingAndGlyphs">amet elit</text></g>
<g id="M1c"><rect class="n m" x="255" y="117" width="27" height="6.5"/><text x="256" y="118.8" textLength="25" lengthAdjust="spacingAndGlyphs">lorem ipsum dolor sit amet</text><text x="256" y="120.65" textLength="25" lengthAdjust="spacingAndGlyphs">sed do eiusmod tempor in</text><text x="256" y="122.5" textLength="15" lengthAdjust="spacingAndGlyphs">ut labore et</text></g>
<g id="M2"><rect class="n m" x="277" y="150" width="26" height="4"/><text x="278" y="152.6" textLength="24" lengthAdjust="spacingAndGlyphs">lorem ipsum dolor sit am</text></g>
<g id="M2a"><rect class="n m" x="227" y="128" width="46" height="12"/><text x="228" y="129.8" textLength="44" lengthAdjust="spacingAndGlyphs">lorem ipsum dolor sit amet consectetur adipiscing</text><text x="228" y="131.65" textLength="44" lengthAdjust="spacingAndGlyphs">sed do eiusmod tempor incididunt ut labore et</text><text x="228" y="133.5" textLength="44" lengthAdjust="spacingAndGlyphs">dolore magna aliqua ut enim ad minim veniam</text><text x="228" y="135.35" textLength="44" lengthAdjust="spacingAndGlyphs">quis nostrud exercitation ullamco laboris nisi</text><text x="228" y="137.2" textLength="44" lengthAdjust="spacingAndGlyphs">ut aliquip ex ea commodo consequat duis aute</text><text x="228" y="139.05" textLength="26" lengthAdjust="spacingAndGlyphs">irure dolor in</text></g>
<g id="M2b"><rect class="n m" x="248" y="156" width="25" height="5"/><text x="249" y="157.8" textLength="23" lengthAdjust="spacingAndGlyphs">lorem ipsum dolor sit a</text><text x="249" y="159.65" textLength="14" lengthAdjust="spacingAndGlyphs">sed do eius</text></g>
<g id="M2b1"><rect class="n m" x="215" y="143" width="28" height="9"/><text x="216" y="144.8" textLength="26" lengthAdjust="spacingAndGlyphs">lorem ipsum dolor sit amet</text><text x="216" y="146.65" textLength="26" lengthAdjust="spacingAndGlyphs">sed do eiusmod tempor in</text><text x="216" y="148.5" textLength="26" lengthAdjust="spacingAndGlyphs">ut labore et dolore magna</text><text x="216" y="150.35" textLength="16" lengthAdjust="spacingAndGlyphs">aliqua ut enim</text></g>
<g id="M2b2"><rect class="n m" x="212" y="153" width="31" height="7"/><text x="213" y="154.8" textLength="29" lengthAdjust="spacingAndGlyphs">lorem ipsum dolor sit amet co</text><text x="213" y="156.65" textLength="29" lengthAdjust="spacingAndGlyphs">sed do eiusmod tempor incid</text><text x="213" y="158.5" textLength="17" lengthAdjust="spacingAndGlyphs">ut labore et</text></g>
<g id="M2b3"><rect class="n m" x="212" y="162" width="31" height="5"/><text x="213" y="163.8" textLength="29" lengthAdjust="spacingAndGlyphs">lorem ipsum dolor sit amet co</text><text x="213" y="165.65" textLength="17" lengthAdjust="spacingAndGlyphs">sed do eiusmod</text></g>
<g id="M2b4"><rect class="n m" x="227" y="168" width="16" height="5"/><text x="228" y="169.8" textLength="14" lengthAdjust="spacingAndGlyphs">lorem ipsum do</text><text x="228" y="171.65" textLength="8" lengthAdjust="spacingAndGlyphs">sit amet</text></g>
<g id="M3"><rect class="n m" x="272" y="178" width="31" height="7"/><text x="273" y="179.8" textLength="29" lengthAdjust="spacingAndGlyphs">lorem ipsum dolor sit amet co</text><text x="273" y="181.65" textLength="29" lengthAdjust="spacingAndGlyphs">sed do eiusmod tempor incid</text><text x="273" y="183.5" textLength="17" lengthAdjust="spacingAndGlyphs">ut labore et</text></g>
<g id="M4"><rect class="n m" x="260" y="188" width="43" height="7"/><text x="261" y="189.8" textLength="41" lengthAdjust="spacingAndGlyphs">lorem ipsum dolor sit amet consectetur</text><text x="261" y="191.65" textLength="41" lengthAdjust="spacingAndGlyphs">sed do eiusmod tempor incididunt ut</text><text x="261" y="193.5" textLength="25" lengthAdjust="spacingAndGlyphs">labore et dolore</text></g>
<g id="M5"><rect class="n m" x="278" y="210" width="24" height="4"/><text x="279" y="212.6" textLength="22" lengthAdjust="spacingAndGlyphs">lorem ipsum dolor sit</text></g>
<g id="M5a"><rect class="n m" x="238" y="199" width="37" height="4.7"/><text x="239" y="200.8" textLength="35" lengthAdjust="spacingAndGlyphs">lorem ipsum dolor sit amet consectetur</text><text x="239" y="202.65" textLength="21" lengthAdjust="spacingAndGlyphs">sed do eiusmod</text></g>
<g id="M5b"><rect class="n m" x="245" y="205" width="30" height="4.7"/><text x="246" y="206.8" textLength="28" lengthAdjust="spacingAndGlyphs">lorem ipsum dolor sit amet</text><text x="246" y="208.65" textLength="17" lengthAdjust="spacingAndGlyphs">sed do eiusmod</text></g>
<g id="M5c"><rect class="n m" x="252" y="213" width="23" height="4.7"/><text x="253" y="214.8" textLength="21" lengthAdjust="spacingAndGlyphs">lorem ipsum dolor sit</text><text x="253" y="216.65" textLength="13" lengthAdjust="spacingAndGlyphs">amet elit</text></g>
<g id="M5d"><rect class="n m" x="258" y="220" width="17" height="5"/><text x="259" y="221.8" textLength="15" lengthAdjust="spacingAndGlyphs">lorem ipsum dol</text><text x="259" y="223.65" textLength="9" lengthAdjust="spacingAndGlyphs">sit amet</text></g>
<g id="M6"><rect class="n m" x="267" y="235" width="36" height="5"/><text x="268" y="236.8" textLength="34" lengthAdjust="spacingAndGlyphs">lorem ipsum dolor sit amet consec</text><text x="268" y="238.65" textLength="20" lengthAdjust="spacingAndGlyphs">sed do eiusmod</text></g>
<g id="M6a"><rect class="n m" x="247" y="230" width="15" height="6.5"/><text x="248" y="231.8" textLength="13" lengthAdjust="spacingAndGlyphs">lorem ipsum</text><text x="248" y="233.65" textLength="13" lengthAdjust="spacingAndGlyphs">dolor sit am</text><text x="248" y="235.5" textLength="8" lengthAdjust="spacingAndGlyphs">sed do</text></g>
<g id="M6b"><rect class="n m" x="225" y="240" width="35" height="5"/><text x="226" y="241.8" textLength="33" lengthAdjust="spacingAndGlyphs">lorem ipsum dolor sit amet consec</text><text x="226" y="243.65" textLength="20" lengthAdjust="spacingAndGlyphs">sed do eiusmod</text></g>
<g id="M7"><rect class="n m" x="285" y="283" width="18" height="3"/><text x="286" y="285.1" textLength="16" lengthAdjust="spacingAndGlyphs">lorem ipsum dol</text></g>
<g id="M7a"><rect class="n m" x="260" y="255" width="23" height="3"/><text x="261" y="257.1" textLength="21" lengthAdjust="spacingAndGlyphs">lorem ipsum dolor sit</text></g>
<g id="M7a1"><rect class="n m" x="237" y="252" width="20" height="4.7"/><text x="238" y="253.8" textLength="18" lengthAdjust="spacingAndGlyphs">lorem ipsum dolor</text><text x="238" y="255.65" textLength="11" lengthAdjust="spacingAndGlyphs">sit amet</text></g>
<g id="M7a2"><rect class="n m" x="217" y="260" width="40" height="4.7"/><text x="218" y="261.8" textLength="38" lengthAdjust="spacingAndGlyphs">lorem ipsum dolor sit amet consectetur</text><text x="218" y="263.65" textLength="23" lengthAdjust="spacingAndGlyphs">sed do eiusmod</text></g>
<g id="M7b"><rect class="n m" x="258" y="290" width="25" height="3"/><text x="259" y="292.1" textLength="23" lengthAdjust="spacingAndGlyphs">lorem ipsum dolor sit a</text></g>
<g id="M7b1"><rect class="n m" x="220" y="268" width="35" height="9"/><text x="221" y="269.8" textLength="33" lengthAdjust="spacingAndGlyphs">lorem ipsum dolor sit amet consec</text><text x="221" y="271.65" textLength="33" lengthAdjust="spacingAndGlyphs">sed do eiusmod tempor incididunt</text><text x="221" y="273.5" textLength="33" lengthAdjust="spacingAndGlyphs">ut labore et dolore magna aliqua</text><text x="221" y="275.35" textLength="20" lengthAdjust="spacingAndGlyphs">ut enim ad minim</text></g>
<g id="M7b2"><rect class="n m" x="210" y="279" width="45" height="7"/><text x="211" y="280.8" textLength="43" lengthAdjust="spacingAndGlyphs">lorem ipsum dolor sit amet consectetur adipiscing</text><text x="211" y="282.65" textLength="43" lengthAdjust="spacingAndGlyphs">sed do eiusmod tempor incididunt ut labore et</text><text x="211" y="284.5" textLength="26" lengthAdjust="spacingAndGlyphs">dolore magna aliqua</text></g>
<g id="M7b3"><rect class="n m" x="212" y="288" width="43" height="10"/><text x="213" y="289.8" textLength="41" lengthAdjust="spacingAndGlyphs">lorem ipsum dolor sit amet consectetur</text><text x="213" y="291.65" textLength="41" lengthAdjust="spacingAndGlyphs">sed do eiusmod tempor incididunt ut</text><text x="213" y="293.5" textLength="41" lengthAdjust="spacingAndGlyphs">labore et dolore magna aliqua ut enim</text><text x="213" y="295.35" textLength="25" lengthAdjust="spacingAndGlyphs">ad minim veniam</text></g>
<g id="M7b4"><rect class="n m" x="220" y="300" width="35" height="7"/><text x="221" y="301.8" textLength="33" lengthAdjust="spacingAndGlyphs">lorem ipsum dolor sit amet consec</text><text x="221" y="303.65" textLength="33" lengthAdjust="spacingAndGlyphs">sed do eiusmod tempor incididunt</text><text x="221" y="305.5" textLength="20" lengthAdjust="spacingAndGlyphs">ut labore et</text></g>
<g id="M7b5"><rect class="n m" x="220" y="310" width="35" height="5"/><text x="221" y="311.8" textLength="33" lengthAdjust="spacingAndGlyphs">lorem ipsum dolor sit amet consec</text><text x="221" y="313.65" textLength="20" lengthAdjust="spacingAndGlyphs">sed do eiusmod</text></g>
<g id="U0"><rect class="n u" x="333" y="410" width="20" height="5"/><text x="334" y="411.8" textLength="18" lengthAdjust="spacingAndGlyphs">lorem ipsum dolor</text><text x="334" y="413.65" textLength="11" lengthAdjust="spacingAndGlyphs">sit amet</text></g>
<g id="U1"><rect class="n u" x="318" y="371" width="12" height="3"/><text x="319" y="373.1" textLength="10" lengthAdjust="spacingAndGlyphs">lorem ipsum</text></g>
<g id="U1a"><rect class="n u" x="295" y="343" width="20" height="5"/><text x="296" y="344.8" textLength="18" lengthAdjust="spacingAndGlyphs">lorem ipsum dolor</text><text x="296" y="346.65" textLength="11" lengthAdjust="spacingAndGlyphs">sit amet</text></g>
<g id="U1a1"><rect class="n u" x="262" y="325" width="28" height="8"/><text x="263" y="326.8" textLength="26" lengthAdjust="spacingAndGlyphs">lorem ipsum dolor sit amet</text><text x="263" y="328.65" textLength="26" lengthAdjust="spacingAndGlyphs">sed do eiusmod tempor in</text><text x="263" y="330.5" textLength="16" lengthAdjust="spacingAndGlyphs">ut labore et</text></g>
<g id="U1a2"><rect class="n u" x="262" y="337" width="28" height="6.5"/><text x="263" y="338.8" textLength="26" lengthAdjust="spacingAndGlyphs">lorem ipsum dolor sit amet</text><text x="263" y="340.65" textLength="26" lengthAdjust="spacingAndGlyphs">sed do eiusmod tempor in</text><text x="263" y="342.5" textLength="16" lengthAdjust="spacingAndGlyphs">ut labore et</text></g>
<g id="U1a3"><rect class="n u" x="260" y="347" width="30" height="6.5"/><text x="261" y="348.8" textLength="28" lengthAdjust="spacingAndGlyphs">lorem ipsum dolor sit amet</text><text x="261" y="350.65" textLength="28" lengthAdjust="spacingAndGlyphs">sed do eiusmod tempor inc</text><text x="261" y="352.5" textLength="17" lengthAdjust="spacingAndGlyphs">ut labore et</text></g>
<g id="U1a4"><rect class="n u" x="265" y="357" width="25" height="6.5"/><text x="266" y="358.8" textLength="23" lengthAdjust="spacingAndGlyphs">lorem ipsum dolor sit a</text><text x="266" y="360.65" textLength="23" lengthAdjust="spacingAndGlyphs">sed do eiusmod tempor</text><text x="266" y="362.5" textLength="14" lengthAdjust="spacingAndGlyphs">ut labore</text></g>
<g id="U1b"><rect class="n u" x="280" y="391" width="33" height="5"/><text x="281" y="392.8" textLength="31" lengthAdjust="spacingAndGlyphs">lorem ipsum dolor sit amet cons</text><text x="281" y="394.65" textLength="19" lengthAdjust="spacingAndGlyphs">sed do eiusmod</text></g>
<g id="U1b1"><rect class="n u" x="248" y="369" width="25" height="5"/><text x="249" y="370.8" textLength="23" lengthAdjust="spacingAndGlyphs">lorem ipsum dolor sit a</text><text x="249" y="372.65" textLength="14" lengthAdjust="spacingAndGlyphs">sed do eius</text></g>
<g id="U1b2"><rect class="n u" x="243" y="378" width="30" height="7"/><text x="244" y="379.8" textLength="28" lengthAdjust="spacingAndGlyphs">lorem ipsum dolor sit amet</text><text x="244" y="381.65" textLength="28" lengthAdjust="spacingAndGlyphs">sed do eiusmod tempor inc</text><text x="244" y="383.5" textLength="17" lengthAdjust="spacingAndGlyphs">ut labore et</text></g>
<g id="U1b3"><rect class="n u" x="253" y="387" width="20" height="5"/><text x="254" y="388.8" textLength="18" lengthAdjust="spacingAndGlyphs">lorem ipsum dolor</text><text x="254" y="390.65" textLength="11" lengthAdjust="spacingAndGlyphs">sit amet</text></g>
<g id="U1b4"><rect class="n u" x="245" y="395" width="28" height="7"/><text x="246" y="396.8" textLength="26" lengthAdjust="spacingAndGlyphs">lorem ipsum dolor sit amet</text><text x="246" y="398.65" textLength="26" lengthAdjust="spacingAndGlyphs">sed do eiusmod tempor in</text><text x="246" y="400.5" textLength="16" lengthAdjust="spacingAndGlyphs">ut labore et</text></g>
<g id="U1b5"><rect class="n u" x="248" y="405" width="25" height="5"/><text x="249" y="406.8" textLength="23" lengthAdjust="spacingAndGlyphs">lorem ipsum dolor sit a</text><text x="249" y="408.65" textLength="14" lengthAdjust="spacingAndGlyphs">sed do eius</text></g>
<g id="U1b6"><rect class="n u" x="262" y="413" width="11" height="5"/><text x="263" y="414.8" textLength="9" lengthAdjust="spacingAndGlyphs">lorem ip</text><text x="263" y="416.65" textLength="5" lengthAdjust="spacingAndGlyphs">sum</text></g>
<g id="U2"><rect class="n u" x="313" y="444" width="15" height="3"/><text x="314" y="446.1" textLength="13" lengthAdjust="spacingAndGlyphs">lorem ipsum</text></g>
<g id="U2a"><rect class="n u" x="273" y="425" width="35" height="5"/><text x="274" y="426.8" textLength="33" lengthAdjust="spacingAndGlyphs">lorem ipsum dolor sit amet consec</text><text x="274" y="428.65" textLength="20" lengthAdjust="spacingAndGlyphs">sed do eiusmod</text></g>
<g id="U2b"><rect class="n u" x="302" y="447" width="8" height="3"/><text x="303" y="449.1" textLength="6" lengthAdjust="spacingAndGlyphs">item</text></g>
<g id="U2b1"><rect class="n u" x="275" y="435" width="20" height="5"/><text x="276" y="436.8" textLength="18" lengthAdjust="spacingAndGlyphs">lorem ipsum dolor</text><text x="276" y="438.65" textLength="11" lengthAdjust="spacingAndGlyphs">sit amet</text></g>
<g id="U2b2"><rect class="n u" x="270" y="452" width="25" height="5"/><text x="271" y="453.8" textLength="23" lengthAdjust="spacingAndGlyphs">lorem ipsum dolor sit a</text><text x="271" y="455.65" textLength="14" lengthAdjust="spacingAndGlyphs">sed do eius</text></g>
<g id="U2b2a"><rect class="n u" x="237" y="445" width="28" height="4"/><text x="238" y="447.6" textLength="26" lengthAdjust="spacingAndGlyphs">lorem ipsum dolor sit amet</text></g>
<g id="U2b2b"><rect class="n u" x="237" y="452" width="28" height="6.5"/><text x="238" y="453.8" textLength="26" lengthAdjust="spacingAndGlyphs">lorem ipsum dolor sit amet</text><text x="238" y="455.65" textLength="26" lengthAdjust="spacingAndGlyphs">sed do eiusmod tempor in</text><text x="238" y="457.5" textLength="16" lengthAdjust="spacingAndGlyphs">ut labore et</text></g>
<g id="U2b2c"><rect class="n u" x="237" y="460" width="28" height="5"/><text x="238" y="461.8" textLength="26" lengthAdjust="spacingAndGlyphs">lorem ipsum dolor sit amet</text><text x="238" y="463.65" textLength="16" lengthAdjust="spacingAndGlyphs">sed do eiusmod</text></g>
<g id="U3"><rect class="n u" x="312" y="484" width="15" height="3"/><text x="313" y="486.1" textLength="13" lengthAdjust="spacingAndGlyphs">lorem ipsum</text></g>
<g id="U3a"><rect class="n u" x="283" y="481" width="25" height="4.7"/><text x="284" y="482.8" textLength="23" lengthAdjust="spacingAndGlyphs">lorem ipsum dolor sit a</text><text x="284" y="484.65" textLength="14" lengthAdjust="spacingAndGlyphs">sed do eius</text></g>
<g id="U3a1"><rect class="n u" x="268" y="473" width="10" height="5"/><text x="269" y="474.8" textLength="8" lengthAdjust="spacingAndGlyphs">lorem</text><text x="269" y="476.65" textLength="5" lengthAdjust="spacingAndGlyphs">ipsu</text></g>
<g id="U3a2"><rect class="n u" x="268" y="480" width="10" height="5"/><text x="269" y="481.8" textLength="8" lengthAdjust="spacingAndGlyphs">lorem</text><text x="269" y="483.65" textLength="5" lengthAdjust="spacingAndGlyphs">ipsu</text></g>
<g id="U3a3"><rect class="n u" x="270" y="487" width="8" height="5"/><text x="271" y="488.8" textLength="6" lengthAdjust="spacingAndGlyphs">lorem</text><text x="271" y="490.65" textLength="4" lengthAdjust="spacingAndGlyphs">ips</text></g>
<g id="U3b"><rect class="n u" x="295" y="497" width="13" height="5"/><text x="296" y="498.8" textLength="11" lengthAdjust="spacingAndGlyphs">lorem ipsum</text><text x="296" y="500.65" textLength="7" lengthAdjust="spacingAndGlyphs">dolor</text></g>
</svg>
